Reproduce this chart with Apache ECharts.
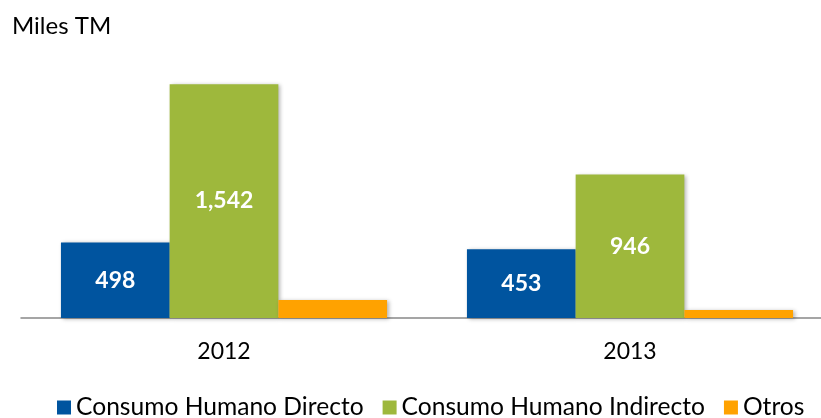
<!DOCTYPE html>
<html>
<head>
<meta charset="utf-8">
<script src="https://cdn.jsdelivr.net/npm/echarts@6/dist/echarts.min.js"></script>
<style>
  html, body { margin: 0; padding: 0; background: #fff; }
  #chart { width: 821px; height: 418px; }
</style>
</head>
<body>
<div id="chart"></div>
<script>
// años
var years = ['2012', '2013'];
// series (miles TM)
var directo = [498, 453];
var indirecto = [1542, 946];
var otros = [118, 53];
var seriesNames = ['Consumo Humano Directo', 'Consumo Humano Indirecto', 'Otros'];
var colors = ['#00549F', '#9EB83C', '#FFA200'];

var chart = echarts.init(document.getElementById('chart'));

var shadow = {
  shadowBlur: 4,
  shadowColor: 'rgba(0,0,0,0.3)',
  shadowOffsetX: 2,
  shadowOffsetY: 1
};

function barSeries(name, data, color, showLabel) {
  return {
    name: name,
    type: 'bar',
    data: data,
    barWidth: 108.7,
    barGap: '0%',
    itemStyle: Object.assign({ color: color }, shadow),
    label: {
      show: showLabel,
      position: 'inside',
      color: '#fff',
      fontWeight: 'bold',
      fontSize: 23,
      fontFamily: 'Lato',
      formatter: function (p) { return p.value.toLocaleString('en-US'); }
    }
  };
}

var option = {
  animation: false,
  backgroundColor: '#fff',
  textStyle: { fontFamily: 'Lato' },
  title: {
    text: 'Miles TM',
    left: 12,
    top: 14,
    padding: 0,
    textStyle: { fontSize: 24, fontWeight: 'normal', color: '#000', fontFamily: 'Lato' }
  },
  legend: {
    top: 395,
    left: 57,
    width: 800,
    padding: 0,
    itemWidth: 14,
    itemHeight: 14,
    itemGap: 19,
    icon: 'rect',
    textStyle: { fontSize: 24.6, color: '#000', fontFamily: 'Lato' },
    data: seriesNames
  },
  grid: {
    left: 21,
    top: 45,
    width: 812,
    height: 273,
    outerBoundsMode: 'none'
  },
  xAxis: {
    type: 'category',
    data: years,
    axisLine: { lineStyle: { color: '#888', width: 1.5 } },
    axisTick: { show: false },
    axisLabel: { fontSize: 23, color: '#000', margin: 22, fontFamily: 'Lato' }
  },
  yAxis: {
    type: 'value',
    min: 0,
    max: 1800,
    show: false,
    splitLine: { show: false }
  },
  series: [
    barSeries(seriesNames[0], directo, colors[0], true),
    barSeries(seriesNames[1], indirecto, colors[1], true),
    barSeries(seriesNames[2], otros, colors[2], false)
  ]
};

chart.setOption(option);
</script>
</body>
</html>
